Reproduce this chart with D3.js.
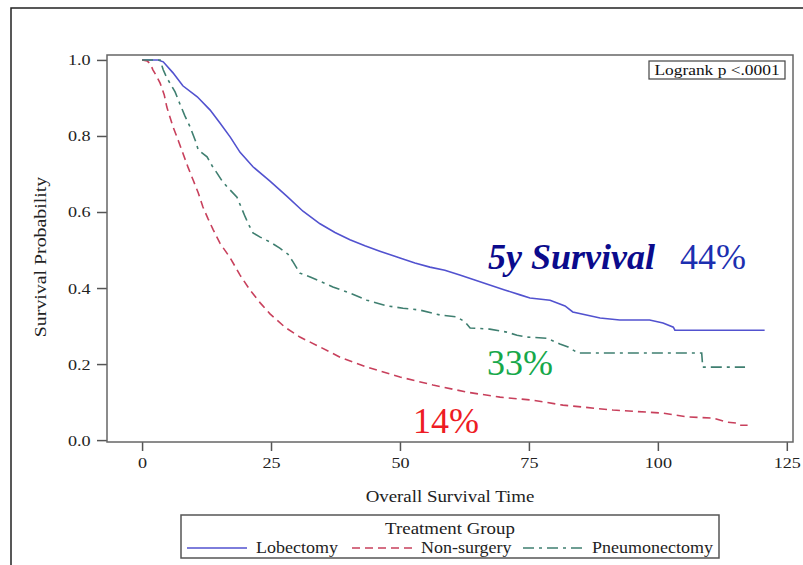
<!DOCTYPE html>
<html>
<head>
<meta charset="utf-8">
<script src="https://cdn.jsdelivr.net/npm/d3@7"></script>
<style>
  body { margin: 0; background: #fff; }
  svg { display: block; font-family: "Liberation Serif", "Times New Roman", serif; }
</style>
</head>
<body>
<svg id="chart" width="803" height="565"></svg>
<script>
// Kaplan-Meier estimates (time in months, survival probability)
const lobTime = [0, 3.1, 4.1, 6.0, 7.9, 10.7, 13.2, 15.1, 17.1, 19.0, 21.5, 24.8, 28.1, 31.2, 34.5, 37.4, 40.3, 43.2, 46.1, 50.0, 52.9, 55.8, 58.7, 61.6, 64.5, 67.4, 70.3, 73.3, 75.2, 79.1, 82.0, 83.5, 88.8, 92.6, 98.4, 101.0, 103.0, 103.3, 120.7];
const lobSurv = [1.0, 1.0, 0.995, 0.966, 0.932, 0.903, 0.868, 0.834, 0.797, 0.757, 0.719, 0.681, 0.641, 0.602, 0.569, 0.546, 0.527, 0.511, 0.497, 0.479, 0.466, 0.455, 0.447, 0.434, 0.421, 0.408, 0.395, 0.382, 0.374, 0.368, 0.353, 0.337, 0.321, 0.316, 0.316, 0.308, 0.297, 0.289, 0.289];

const nonTime = [0, 1.0, 1.6, 2.1, 2.9, 3.5, 4.3, 4.8, 5.4, 6.0, 7.0, 7.9, 8.9, 9.9, 10.9, 11.8, 12.8, 13.8, 15.1, 17.1, 19.0, 20.9, 22.9, 24.8, 27.7, 30.6, 34.5, 38.4, 43.6, 50.0, 56.4, 63.0, 69.4, 75.8, 81.6, 91.3, 101.0, 105.6, 110.7, 113.4, 115.3, 115.9, 117.4];
const nonSurv = [1.0, 0.997, 0.99, 0.974, 0.955, 0.939, 0.908, 0.876, 0.85, 0.824, 0.789, 0.755, 0.718, 0.684, 0.65, 0.613, 0.582, 0.553, 0.518, 0.479, 0.434, 0.395, 0.361, 0.332, 0.297, 0.271, 0.245, 0.218, 0.192, 0.166, 0.145, 0.126, 0.113, 0.105, 0.092, 0.079, 0.071, 0.061, 0.058, 0.047, 0.045, 0.039, 0.039];

const pneTime = [0, 3.5, 4.1, 4.8, 5.4, 6.4, 7.4, 8.3, 9.3, 10.3, 10.9, 12.6, 13.6, 14.5, 15.5, 16.5, 18.4, 19.2, 20.0, 20.7, 21.5, 22.9, 24.8, 26.7, 28.3, 29.3, 30.6, 32.6, 34.5, 37.0, 40.3, 43.6, 47.5, 50.6, 53.9, 57.8, 61.0, 62.6, 63.6, 67.4, 70.7, 72.7, 74.6, 78.5, 81.0, 82.6, 84.5, 108.5, 108.7, 116.9];
const pneSurv = [1.0, 1.0, 0.974, 0.953, 0.939, 0.916, 0.882, 0.853, 0.824, 0.789, 0.763, 0.745, 0.721, 0.703, 0.682, 0.666, 0.639, 0.613, 0.587, 0.566, 0.545, 0.534, 0.521, 0.505, 0.489, 0.468, 0.439, 0.429, 0.418, 0.403, 0.387, 0.368, 0.353, 0.347, 0.342, 0.329, 0.324, 0.311, 0.295, 0.292, 0.284, 0.276, 0.271, 0.268, 0.253, 0.245, 0.229, 0.229, 0.192, 0.192];

const groupNames = ["Lobectomy", "Non-surgery", "Pneumonectomy"];
const xTicks = [0, 25, 50, 75, 100, 125];
const yTicks = [0.0, 0.2, 0.4, 0.6, 0.8, 1.0];
const fiveYearLabels = ["44%", "33%", "14%"];

const svg = d3.select("#chart");
const plot = { left: 107, right: 793, top: 55, bottom: 442 };

const x = d3.scaleLinear().domain([-6.8, 126.2]).range([plot.left, plot.right]);
const y = d3.scaleLinear().domain([-0.005, 1.013]).range([plot.bottom, plot.top]);

const styles = {
  "Lobectomy": { color: "#5252cf", dash: null },
  "Non-surgery": { color: "#c8405c", dash: "8,5" },
  "Pneumonectomy": { color: "#3f7f70", dash: "11,5,3,5" }
};

// the original type is a wide serif, so stretch Liberation Serif a bit
function wideText(parent, px, py, str, size, sx, anchor, rot) {
  const g = parent.append("g")
    .attr("transform", `translate(${px},${py})` + (rot ? ` rotate(${rot})` : "") + ` scale(${sx},1)`);
  return g.append("text")
    .attr("text-anchor", anchor || "start")
    .attr("font-size", size)
    .attr("fill", "#222")
    .text(str);
}

// outer frame (only left and top edges visible)
svg.append("path")
  .attr("d", "M11,565 L11,8 L803,8")
  .attr("fill", "none")
  .attr("stroke", "#222")
  .attr("stroke-width", 1.5);

// axes
const xAxis = d3.axisBottom(x).tickValues(xTicks).tickSize(9).tickSizeOuter(0).tickPadding(6);
const yAxis = d3.axisLeft(y).tickValues(yTicks).tickSize(10).tickSizeOuter(0).tickPadding(4)
  .tickFormat(d3.format(".1f"));

const gx = svg.append("g").attr("transform", `translate(0,${plot.bottom})`).call(xAxis);
const gy = svg.append("g").attr("transform", `translate(${plot.left},0)`).call(yAxis);
[gx, gy].forEach(g => {
  g.select(".domain").remove();
  g.selectAll("line").attr("stroke", "#555").attr("stroke-width", 1.5);
  g.selectAll("text").attr("fill", "#222").attr("font-size", 15.5)
    .attr("transform", "scale(1.17,1)")
    .attr("font-family", "Liberation Serif, serif");
});

// plot frame
svg.append("rect")
  .attr("x", plot.left).attr("y", plot.top)
  .attr("width", plot.right - plot.left).attr("height", plot.bottom - plot.top)
  .attr("fill", "none").attr("stroke", "#666").attr("stroke-width", 1.5);

// survival curves
const series = [
  { name: "Lobectomy", t: lobTime, s: lobSurv },
  { name: "Non-surgery", t: nonTime, s: nonSurv },
  { name: "Pneumonectomy", t: pneTime, s: pneSurv }
];

const line = d3.line()
  .x(d => x(d[0]))
  .y(d => y(d[1]));

series.forEach(sr => {
  const pts = sr.t.map((t, i) => [t, sr.s[i]]);
  svg.append("path")
    .datum(pts)
    .attr("d", line)
    .attr("fill", "none")
    .attr("stroke", styles[sr.name].color)
    .attr("stroke-width", 1.6)
    .attr("stroke-dasharray", styles[sr.name].dash);
});

// logrank box
svg.append("rect").attr("x", 649).attr("y", 61).attr("width", 136).attr("height", 18)
  .attr("fill", "#fff").attr("stroke", "#444").attr("stroke-width", 1.2);
wideText(svg, 717, 75, "Logrank p <.0001", 14.5, 1.2, "middle").attr("fill", "#111");

// axis titles
wideText(svg, 46, 257, "Survival Probability", 16, 1.24, "middle", -90);
wideText(svg, (plot.left + plot.right) / 2, 502, "Overall Survival Time", 16, 1.18, "middle");

// 5-year annotations
svg.append("text")
  .attr("x", 488).attr("y", 269)
  .attr("font-size", 36).attr("font-weight", "bold").attr("font-style", "italic")
  .attr("fill", "#0b0b8c").text("5y Survival");
svg.append("text").attr("x", 680).attr("y", 269).attr("font-size", 36)
  .attr("fill", "#1c2fb0").text(fiveYearLabels[0]);
svg.append("text").attr("x", 487).attr("y", 375).attr("font-size", 36)
  .attr("fill", "#16a84a").text(fiveYearLabels[1]);
svg.append("text").attr("x", 413).attr("y", 433).attr("font-size", 36)
  .attr("fill", "#ee1c24").text(fiveYearLabels[2]);

// legend
const leg = svg.append("g");
leg.append("rect").attr("x", 181).attr("y", 515).attr("width", 538).attr("height", 43)
  .attr("fill", "#fff").attr("stroke", "#555").attr("stroke-width", 1.5);
wideText(leg, 450, 534, "Treatment Group", 16, 1.18, "middle");

const legX = [187, 352, 523];
groupNames.forEach((name, i) => {
  leg.append("line")
    .attr("x1", legX[i]).attr("x2", legX[i] + 60)
    .attr("y1", 548).attr("y2", 548)
    .attr("stroke", styles[name].color).attr("stroke-width", 1.6)
    .attr("stroke-dasharray", styles[name].dash);
  wideText(leg, legX[i] + 69, 553, name, 16, 1.125);
});
</script>
</body>
</html>
